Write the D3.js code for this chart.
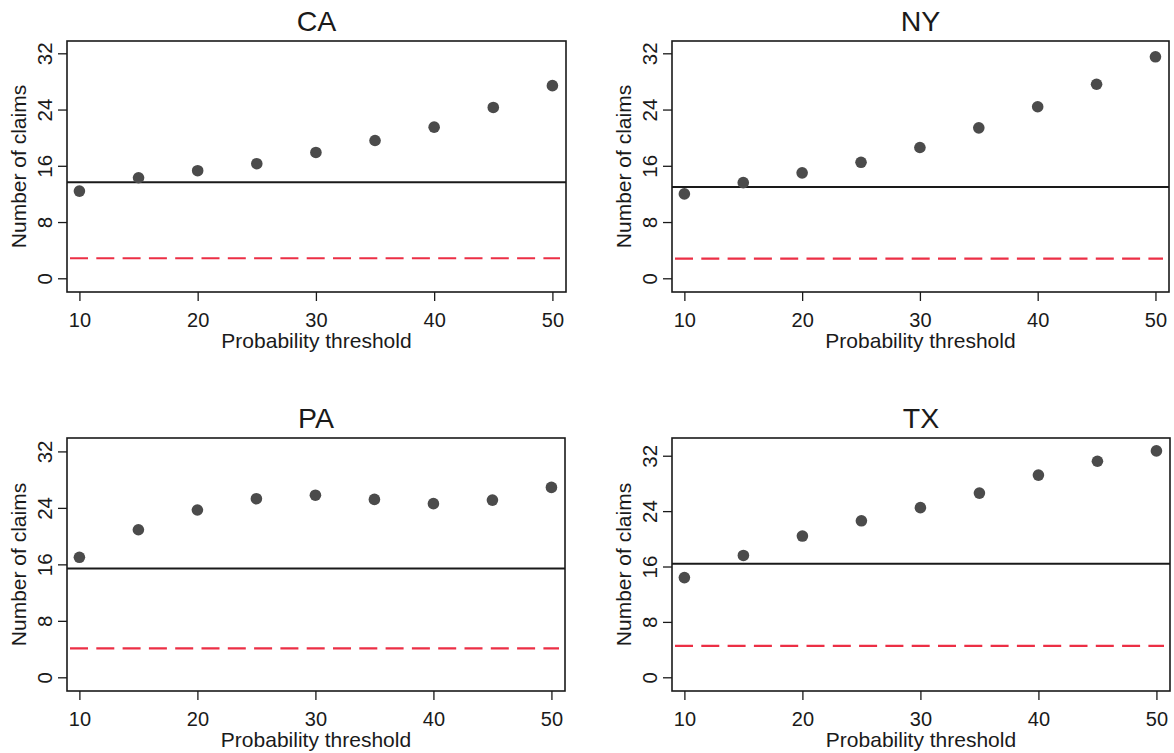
<!DOCTYPE html>
<html>
<head>
<meta charset="utf-8">
<script src="https://cdn.jsdelivr.net/npm/d3@7"></script>
<style>
  html, body { margin: 0; padding: 0; background: #ffffff; }
  svg { display: block; }
  text { font-family: "Liberation Sans", Arial, Helvetica, sans-serif; fill: #1a1a1a; }
</style>
</head>
<body>
<svg id="chart" width="1174" height="753"></svg>
<script>
// ---- data ----
const states = ["CA", "NY", "PA", "TX"];
const thresholds = [10, 15, 20, 25, 30, 35, 40, 45, 50];
const claimsCA = [12.4, 14.3, 15.3, 16.3, 17.9, 19.6, 21.5, 24.3, 27.4];
const claimsNY = [12.0, 13.6, 15.0, 16.5, 18.6, 21.4, 24.4, 27.6, 31.5];
const claimsPA = [17.0, 20.9, 23.7, 25.3, 25.8, 25.2, 24.6, 25.1, 26.9];
const claimsTX = [14.4, 17.6, 20.4, 22.6, 24.5, 26.6, 29.2, 31.2, 32.7];
const solidLine = [13.65, 13.0, 15.4, 16.4];   // black reference level per state
const dashedLine = [2.85, 2.8, 4.1, 4.55];     // red dashed reference level per state
const xTicks = [10, 20, 30, 40, 50];
const yTicks = [0, 8, 16, 24, 32];
const xLabel = "Probability threshold";
const yLabel = "Number of claims";

const seriesByState = [claimsCA, claimsNY, claimsPA, claimsTX];

// ---- layout ----
const boxes = [
  { x0: 67,  x1: 566,  y0: 41,  y1: 292, ydom: [-1.95, 33.75] },
  { x0: 672, x1: 1169, y0: 41,  y1: 292, ydom: [-1.95, 33.75] },
  { x0: 67,  x1: 565,  y0: 438, y1: 691, ydom: [-1.94, 33.9] },
  { x0: 672, x1: 1170, y0: 438, y1: 691, ydom: [-1.98, 34.56] }
];
const xdom = [8.95, 51.15];

const svg = d3.select("#chart");

states.forEach((st, i) => {
  const b = boxes[i];
  const x = d3.scaleLinear().domain(xdom).range([b.x0, b.x1]);
  const y = d3.scaleLinear().domain(b.ydom).range([b.y1, b.y0]);
  const g = svg.append("g");

  // reference lines
  g.append("line")
    .attr("x1", b.x0).attr("x2", b.x1)
    .attr("y1", y(solidLine[i])).attr("y2", y(solidLine[i]))
    .attr("stroke", "#1a1a1a").attr("stroke-width", 2);
  g.append("line")
    .attr("x1", b.x0 + 3).attr("x2", b.x1 - 6)
    .attr("y1", y(dashedLine[i])).attr("y2", y(dashedLine[i]))
    .attr("stroke", "#ec2f45").attr("stroke-width", 2.2)
    .attr("stroke-dasharray", "18,8.3");

  // points
  g.selectAll("circle.pt")
    .data(thresholds.map((t, k) => ({ t, v: seriesByState[i][k] })))
    .join("circle")
    .attr("class", "pt")
    .attr("cx", d => x(d.t))
    .attr("cy", d => y(d.v))
    .attr("r", 5.8)
    .attr("fill", "#4b4b4b");

  // box
  g.append("rect")
    .attr("x", b.x0).attr("y", b.y0)
    .attr("width", b.x1 - b.x0).attr("height", b.y1 - b.y0)
    .attr("fill", "none").attr("stroke", "#1a1a1a").attr("stroke-width", 1.6);

  // x axis
  const xa = d3.axisBottom(x).tickValues(xTicks).tickSize(9).tickPadding(6).tickFormat(d3.format("d"));
  const gx = g.append("g").attr("transform", `translate(0,${b.y1})`).call(xa);
  gx.select(".domain").remove();
  gx.selectAll(".tick line").attr("stroke", "#1a1a1a").attr("stroke-width", 1.3);
  gx.selectAll(".tick text")
    .attr("font-size", 20).attr("fill", "#1a1a1a")
    .attr("dy", null).attr("y", 35).attr("dominant-baseline", "auto");

  // y axis
  const ya = d3.axisLeft(y).tickValues(yTicks).tickSize(9).tickFormat(d3.format("d"));
  const gy = g.append("g").attr("transform", `translate(${b.x0},0)`).call(ya);
  gy.select(".domain").remove();
  gy.selectAll(".tick line").attr("stroke", "#1a1a1a").attr("stroke-width", 1.3);
  gy.selectAll(".tick text")
    .attr("font-size", 20.5).attr("fill", "#1a1a1a")
    .attr("x", null).attr("dy", null)
    .attr("text-anchor", "middle")
    .attr("transform", "translate(-15,0) rotate(-90)");

  // titles
  g.append("text")
    .attr("x", (b.x0 + b.x1) / 2).attr("y", b.y0 - 10)
    .attr("text-anchor", "middle").attr("font-size", 28.5)
    .text(st);
  g.append("text")
    .attr("x", (b.x0 + b.x1) / 2).attr("y", b.y1 + 56)
    .attr("text-anchor", "middle").attr("font-size", 21)
    .text(xLabel);
  g.append("text")
    .attr("transform", `translate(${b.x0 - 41},${(b.y0 + b.y1) / 2}) rotate(-90)`)
    .attr("text-anchor", "middle").attr("font-size", 21)
    .text(yLabel);
});
</script>
</body>
</html>
